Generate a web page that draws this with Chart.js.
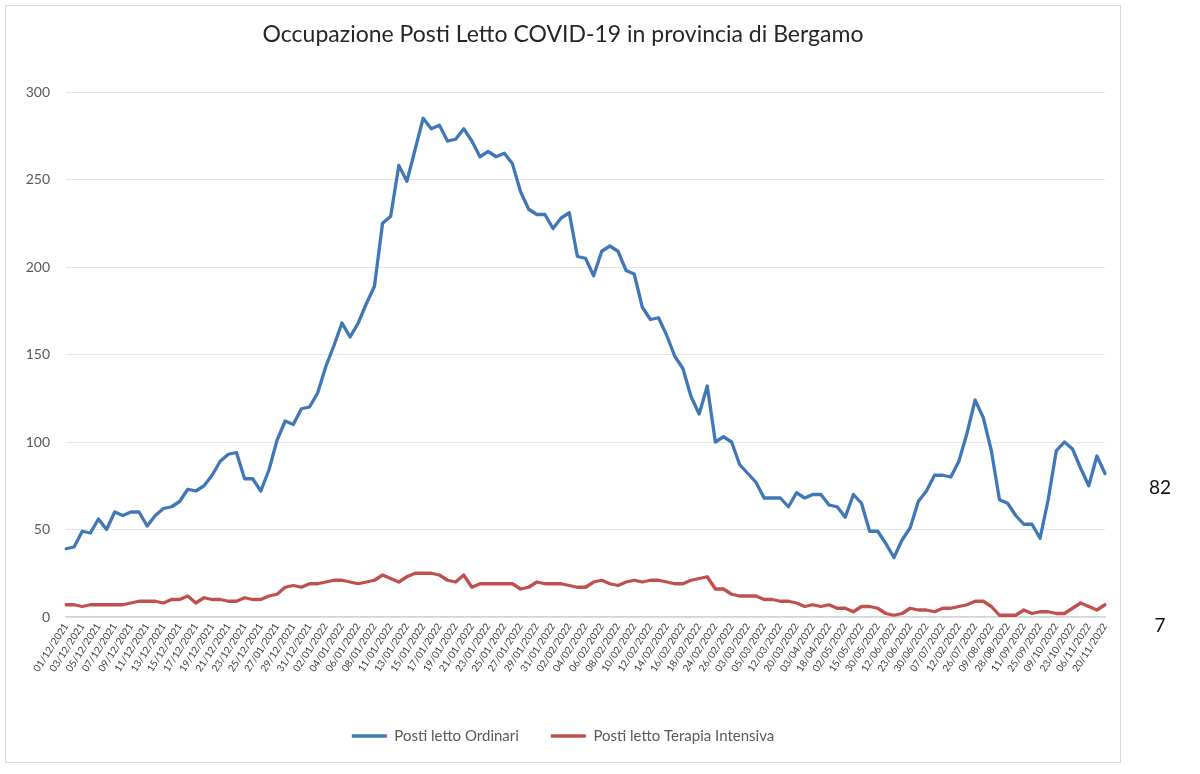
<!DOCTYPE html>
<html><head><meta charset="utf-8">
<script src="https://cdn.jsdelivr.net/npm/chart.js@4.4.1/dist/chart.umd.min.js"></script>
<style>
html,body{margin:0;padding:0;background:#fff;}
#wrap{position:relative;width:1200px;height:774px;overflow:hidden;}
#frame{position:absolute;left:5px;top:5px;width:1116px;height:758px;border:1px solid #d9d9d9;box-sizing:border-box;}
canvas{position:absolute;left:0;top:0;}
</style></head><body>
<div id="wrap"><div id="frame"></div><canvas id="c" width="1200" height="774" style="width:1200px;height:774px"></canvas></div>
<script>
const chartTitle = "Occupazione Posti Letto COVID-19 in provincia di Bergamo";
const seriesNames = ["Posti letto Ordinari", "Posti letto Terapia Intensiva"];

const tickLabels = ["01/12/2021","03/12/2021","05/12/2021","07/12/2021","09/12/2021","11/12/2021","13/12/2021","15/12/2021","17/12/2021","19/12/2021","21/12/2021","23/12/2021","25/12/2021","27/01/2021","29/12/2021","31/12/2021","02/01/2022","04/01/2022","06/01/2022","08/01/2022","11/01/2022","13/01/2022","15/01/2022","17/01/2022","19/01/2022","21/01/2022","23/01/2022","25/01/2022","27/01/2022","29/01/2022","31/01/2022","02/02/2022","04/02/2022","06/02/2022","08/02/2022","10/02/2022","12/02/2022","14/02/2022","16/02/2022","18/02/2022","24/02/2022","26/02/2022","03/03/2022","05/03/2022","12/03/2022","20/03/2022","03/04/2022","18/04/2022","02/05/2022","15/05/2022","30/05/2022","12/06/2022","23/06/2022","30/06/2022","07/07/2022","12/02/2022","26/07/2022","09/08/2022","28/08/2022","11/09/2022","25/09/2022","09/10/2022","23/10/2022","06/11/2022","20/11/2022"];

const ordinari = [39,40,49,48,56,50,60,58,60,60,
52,58,62,63,66,73,72,75,81,89,
93,94,79,79,72,84,101,112,110,119,
120,128,143,155,168,160,168,179,189,225,
229,258,249,267,285,279,281,272,273,279,
272,263,266,263,265,259,243,233,230,230,
222,228,231,206,205,195,209,212,209,198,
196,177,170,171,161,149,142,126,116,132,
100,103,100,87,82,77,68,68,68,63,
71,68,70,70,64,63,57,70,65,49,
49,42,34,44,51,66,72,81,81,80,
89,105,124,114,95,67,65,58,53,53,
45,67,95,100,96,85,75,92,82];

const terapiaIntensiva = [7,7,6,7,7,7,7,7,8,9,
9,9,8,10,10,12,8,11,10,10,
9,9,11,10,10,12,13,17,18,17,
19,19,20,21,21,20,19,20,21,24,
22,20,23,25,25,25,24,21,20,24,
17,19,19,19,19,19,16,17,20,19,
19,19,18,17,17,20,21,19,18,20,
21,20,21,21,20,19,19,21,22,23,
16,16,13,12,12,12,10,10,9,9,
8,6,7,6,7,5,5,3,6,6,
5,2,1,2,5,4,4,3,5,5,
6,7,9,9,6,1,1,1,4,2,
3,3,2,2,5,8,6,4,7];

const yTicks = [0,50,100,150,200,250,300];
const endLabelOffsets = [14, 21];

// one category per data point; only every other point carries a label
const categories = [];
tickLabels.forEach((l, i) => { categories.push(l); if (i < tickLabels.length - 1) categories.push(''); });

const FONT = 'Lato, "Open Sans", sans-serif';
const BLUE = '#3f77b7';
const RED = '#c0504d';

const endLabels = {
  id: 'endLabels',
  afterDraw(chart) {
    const ctx = chart.ctx, ys = chart.scales.y;
    ctx.save();
    ctx.font = '19px ' + FONT;
    ctx.fillStyle = '#111';
    ctx.textAlign = 'center';
    ctx.textBaseline = 'middle';
    chart.data.datasets.forEach((ds, i) => {
      const v = ds.data[ds.data.length - 1];
      ctx.fillText(String(v), chart.chartArea.right + 55, ys.getPixelForValue(v) + endLabelOffsets[i]);
    });
    ctx.restore();
  }
};

new Chart(document.getElementById('c'), {
  type: 'line',
  data: {
    labels: categories,
    datasets: [
      { label: seriesNames[0], data: ordinari, borderColor: BLUE, backgroundColor: BLUE, borderWidth: 3.3, pointRadius: 0, tension: 0, borderJoinStyle: 'round', borderCapStyle: 'round' },
      { label: seriesNames[1], data: terapiaIntensiva, borderColor: RED, backgroundColor: RED, borderWidth: 3.3, pointRadius: 0, tension: 0, borderJoinStyle: 'round', borderCapStyle: 'round' }
    ]
  },
  options: {
    responsive: false,
    animation: false,
    devicePixelRatio: 1,
    layout: { padding: { left: 21, right: 95, top: 0, bottom: 20.5 } },
    plugins: {
      title: { display: true, text: chartTitle, color: '#262626', font: { family: FONT, size: 23, weight: 'normal' }, padding: { top: 21.2, bottom: 43.2 } },
      legend: {
        position: 'bottom',
        labels: { usePointStyle: true, pointStyle: 'line', pointStyleWidth: 35, color: '#595959', font: { family: FONT, size: 15 }, padding: 32 }
      },
      tooltip: { enabled: false }
    },
    scales: {
      x: {
        grid: { display: false, drawTicks: false },
        border: { display: true, color: '#d4d4d4', width: 1.5 },
        ticks: {
          autoSkip: false, minRotation: 57, maxRotation: 57, padding: 4,
          color: '#404040', font: { family: FONT, size: 10 },
          callback(value) { return this.getLabelForValue(value); }
        },
        afterFit(s) { s.height = 79.5; }
      },
      y: {
        min: 0, max: 300,
        afterBuildTicks(s) { s.ticks = yTicks.map(v => ({ value: v })); },
        grid: { color: '#e4e4e4', drawTicks: false },
        border: { display: false },
        ticks: { padding: 16, color: '#595959', font: { family: FONT, size: 14 } },
        afterFit(s) { s.width = 45; }
      }
    }
  },
  plugins: [endLabels]
});
</script>
</body></html>
